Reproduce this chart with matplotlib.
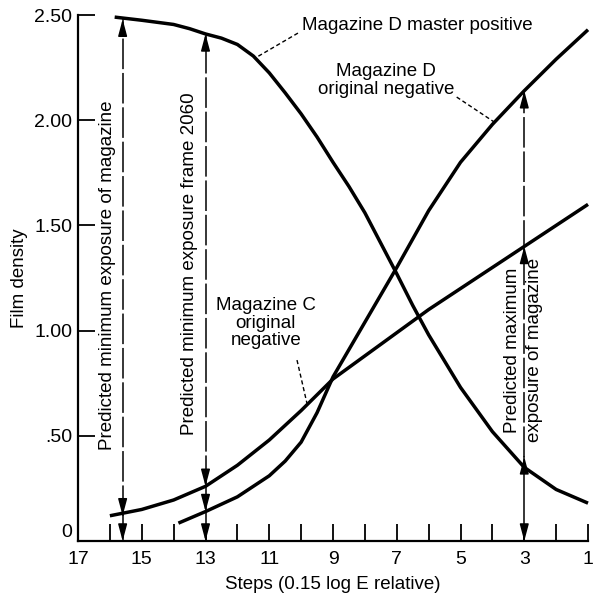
import matplotlib
matplotlib.use('Agg')
import matplotlib.pyplot as plt

plt.rcParams['font.family'] = ['Liberation Sans', 'DejaVu Sans']
plt.rcParams['font.size'] = 13.5

# curve readings: step (0.15 log E) -> film density
master_steps = [15.85, 15, 14, 13.5, 13, 12.5, 12, 11.5, 11, 10.5, 10, 9.5, 9, 8.5, 8, 7.5, 7, 6.5, 6,
                5, 4, 3, 2, 1]
master_density = [2.49, 2.475, 2.455, 2.435, 2.41, 2.39, 2.36, 2.305, 2.225, 2.13, 2.03, 1.92, 1.80, 1.685,
                  1.56, 1.415, 1.27, 1.12, 0.98, 0.73, 0.52, 0.35, 0.245, 0.18]

c_steps = [16, 15, 14, 13, 12, 11, 10, 9, 8, 7, 6, 5, 4, 3, 2, 1]
c_density = [0.12, 0.15, 0.195, 0.26, 0.36, 0.48, 0.62, 0.77, 0.88, 0.99, 1.10, 1.20, 1.30, 1.40, 1.50, 1.60]

d_steps = [13.85, 13, 12, 11, 10.5, 10, 9.5, 9, 8.5, 8, 7, 6, 5, 4, 3, 2, 1]
d_density = [0.085, 0.14, 0.21, 0.31, 0.38, 0.47, 0.61, 0.78, 0.91, 1.04, 1.30, 1.57, 1.80, 1.98,
             2.14, 2.29, 2.43]

# vertical marker lines: step, top of dashed part, top of solid part, arrow tips (up / down)
mark_steps = [15.6, 13, 3]
mark_top = [2.48, 2.41, 2.14]
mark_solid = [0.12, 0.26, 0.40]
tips_up = [[2.48], [2.41], [2.14, 1.40, 0.40]]
tips_down = [[0.12, 0.0], [0.26, 0.14, 0.0], [0.0]]

xticks = [17, 15, 13, 11, 9, 7, 5, 3, 1]
xminor = [16, 14, 12, 10, 8, 6, 4, 2]
yticks = [0, 0.5, 1.0, 1.5, 2.0, 2.5]
ylabels = ['0', '.50', '1.00', '1.50', '2.00', '2.50']

fig = plt.figure(figsize=(6.01, 6.0), dpi=100)
ax = fig.add_axes([0.1298, 0.0983, 0.8486, 0.8767])

lw = 2.5
for xs, ys in [(master_steps, master_density), (c_steps, c_density), (d_steps, d_density)]:
    ax.plot(xs, ys, color='black', lw=lw, solid_capstyle='butt', solid_joinstyle='round', clip_on=False)

head = '-|>,head_length=0.75,head_width=0.2'
for x, top, sol, ups, downs in zip(mark_steps, mark_top, mark_solid, tips_up, tips_down):
    ax.plot([x, x], [sol, top], color='black', lw=1.1, dashes=(20, 2.5))
    ax.plot([x, x], [0, sol], color='black', lw=1.1)
    for t in ups:
        ax.annotate('', xy=(x, t), xytext=(x, t - 0.07),
                    arrowprops=dict(arrowstyle=head, color='black', lw=1.1, shrinkA=0, shrinkB=0))
    for t in downs:
        ax.annotate('', xy=(x, t), xytext=(x, t + 0.07),
                    arrowprops=dict(arrowstyle=head, color='black', lw=1.1, shrinkA=0, shrinkB=0))

# labels and leader lines
ax.text(6.37, 2.45, 'Magazine D master positive', ha='center', va='center')
ax.plot([10.10, 11.39], [2.414, 2.30], color='black', lw=1, dashes=(3, 2))

ax.text(7.34, 2.19, 'Magazine D\noriginal negative', ha='center', va='center', linespacing=1.05)
ax.plot([5.12, 3.93], [2.11, 1.99], color='black', lw=1, dashes=(3, 2))

ax.text(11.11, 1.036, 'Magazine C\noriginal\nnegative', ha='center', va='center', linespacing=1.05)
ax.plot([10.13, 9.82], [0.86, 0.656], color='black', lw=1, dashes=(3, 2))

ax.text(16.09, 1.264, 'Predicted minimum exposure of magazine', rotation=90, ha='center', va='center')
ax.text(13.49, 1.317, 'Predicted minimum exposure frame 2060', rotation=90, ha='center', va='center')
ax.text(3.02, 0.908, 'Predicted maximum\nexposure of magazine', rotation=90, ha='center', va='center',
        linespacing=1.35)

ax.set_xlim(17, 1)
ax.set_ylim(0, 2.5)
ax.set_xticks(xticks)
ax.set_xticks(xminor, minor=True)
ax.set_yticks(yticks)
ax.set_yticklabels(ylabels)
ax.get_yticklabels()[0].set_verticalalignment('bottom')
ax.tick_params(axis='both', which='both', direction='in', length=12, width=1.3, color='black',
               labelsize=14)
ax.tick_params(axis='x', pad=7)
ax.tick_params(axis='y', pad=4)

for s in ['top', 'right']:
    ax.spines[s].set_visible(False)
for s in ['left', 'bottom']:
    ax.spines[s].set_linewidth(1.6)

ax.set_xlabel('Steps (0.15 log E relative)', labelpad=6)
ax.set_ylabel('Film density', labelpad=5)

fig.savefig('out.png', dpi=100)
